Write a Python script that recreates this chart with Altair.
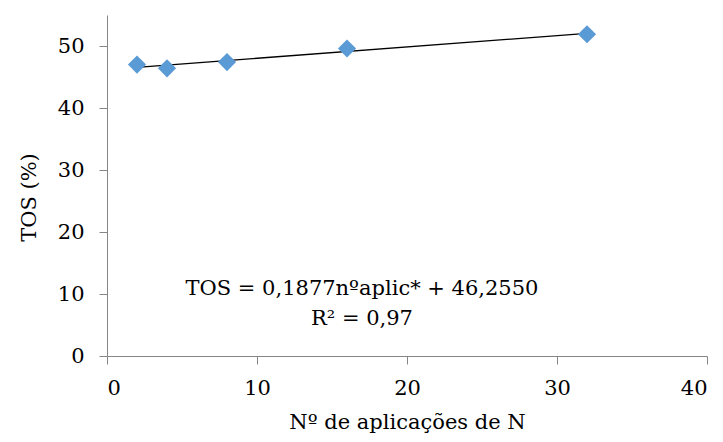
import altair as alt
import pandas as pd

n_aplic = [2, 4, 8, 16, 32]
tos = [47.0, 46.4, 47.4, 49.6, 51.9]
x_ticks = [0, 10, 20, 30, 40]
y_ticks = [0, 10, 20, 30, 40, 50]
equation = "TOS = 0,1877nºaplic* + 46,2550"
r2_text = "R² = 0,97"

df = pd.DataFrame({"x": n_aplic, "y": tos})
ann = pd.DataFrame({"x": [17.0], "y": [9.85], "t": [[equation, r2_text]]})

FONT = "DejaVu Serif"
FS = 21
AXIS_COLOR = "#868686"

xenc = alt.X("x:Q", scale=alt.Scale(domain=[0, 40], nice=False),
             axis=alt.Axis(values=x_ticks, title="Nº de aplicações de N", grid=False,
                           domainColor=AXIS_COLOR, tickColor=AXIS_COLOR, tickSize=8,
                           labelPadding=13, labelFont=FONT, labelFontSize=FS, labelColor="#000",
                           titleFont=FONT, titleFontSize=FS, titleFontWeight="normal",
                           titleColor="#000", titlePadding=13))
yenc = alt.Y("y:Q", scale=alt.Scale(domain=[0, 55], nice=False),
             axis=alt.Axis(values=y_ticks, title="TOS (%)", grid=False,
                           domainColor=AXIS_COLOR, tickColor=AXIS_COLOR, tickSize=8,
                           labelPadding=15, labelFont=FONT, labelFontSize=FS, labelColor="#000",
                           titleFont=FONT, titleFontSize=FS, titleFontWeight="normal",
                           titleColor="#000", titlePadding=18, titleY=182))

points = alt.Chart(df).mark_point(shape="diamond", filled=True, size=330,
                                  color="#5B9BD5", opacity=1).encode(x=xenc, y=yenc)

trend = alt.Chart(df).transform_regression("x", "y").mark_line(
    color="#000000", strokeWidth=1.3).encode(x="x:Q", y="y:Q")

text = alt.Chart(ann).mark_text(font=FONT, fontSize=FS, align="center",
                                baseline="alphabetic", lineHeight=30,
                                color="#000").encode(x="x:Q", y="y:Q", text="t")

chart = alt.layer(trend, points, text).properties(
    width=600, height=341,
    autosize=alt.AutoSizeParams(type="none"),
    padding={"left": 99, "top": 7, "right": 8, "bottom": 78},
).configure_view(stroke=None)

chart.save("out.html", embed_options={"renderer": "svg", "actions": False})
